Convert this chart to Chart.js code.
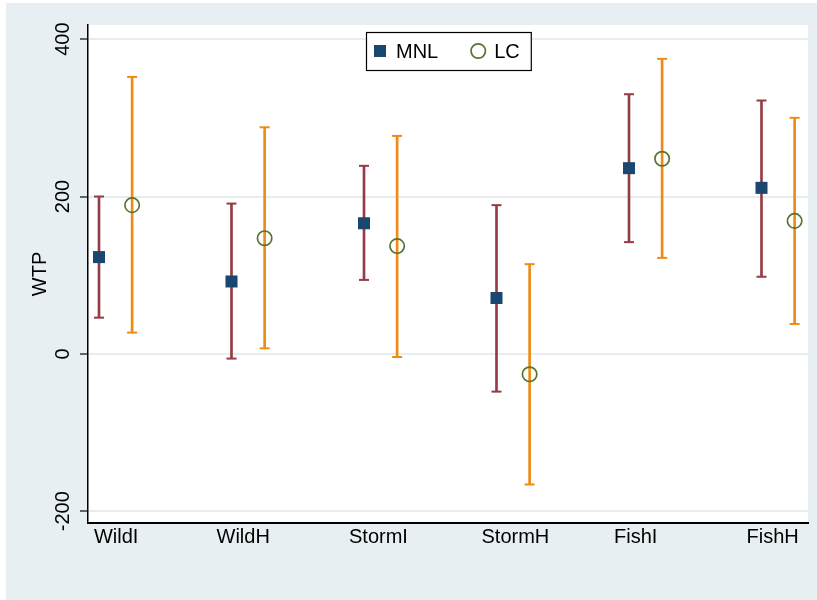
<!DOCTYPE html>
<html><head><meta charset="utf-8">
<script src="https://cdn.jsdelivr.net/npm/chart.js@4/dist/chart.umd.min.js"></script>
<style>
html,body{margin:0;padding:0;background:#fff;}
#wrap{position:absolute;left:6px;top:3px;width:811px;height:597px;background:#e8eff2;}
canvas{display:block;}
</style></head><body>
<div id="wrap"><canvas id="c" width="811" height="597"></canvas></div>
<script>
// ---- data ----
const categories = ['WildI', 'WildH', 'StormI', 'StormH', 'FishI', 'FishH'];
const seriesNames = ['MNL', 'LC'];
const mnlWTP   = [123, 92, 166, 71, 236, 211];
const mnlLower = [46, -6, 94, -48, 142, 98];
const mnlUpper = [200, 191, 239, 189, 330, 322];
const lcWTP    = [189, 147, 137, -26, 248, 169];
const lcLower  = [27, 7, -4, -166, 122, 38];
const lcUpper  = [352, 288, 277, 114, 375, 300];
const yTickValues = [-200, 0, 200, 400];
const yTitle = 'WTP';

// ---- styling ----
const FONT = "'Liberation Sans', Arial, Helvetica, sans-serif";
const navy = '#1a476f', maroon = '#963b45', orange = '#ee8b14', green = '#55752f';
const LC_SHIFT = 0.25;
const X_MIN = -0.083, X_MAX = 5.351;
const Y_MIN = -215, Y_MAX = 418;

const whiskers = (lo, hi, s) => categories.map((c, i) => ({x: i + s, y: [lo[i], hi[i]]}));
const caps = (lo, hi, s) => categories.flatMap((c, i) => [{x: i + s, y: lo[i]}, {x: i + s, y: hi[i]}]);
const pts = (v, s) => categories.map((c, i) => ({x: i + s, y: v[i]}));

const plotBg = {
  id: 'plotBg',
  beforeDraw(chart) {
    const {ctx, chartArea: a} = chart;
    ctx.save(); ctx.fillStyle = '#fff';
    ctx.fillRect(a.left, a.top, a.right - a.left, a.bottom - a.top);
    ctx.restore();
  }
};

const boxLegend = {
  id: 'boxLegend',
  afterDraw(chart) {
    const {ctx, chartArea: a} = chart;
    const items = chart.data.datasets.filter(d => d.legend);
    ctx.save();
    ctx.font = '20px ' + FONT;
    const padL = 8, padR = 11, sym = 12, gap = 10, itemGap = 34, h = 38;
    let total = padL + padR;
    items.forEach((d, i) => { total += sym + gap + ctx.measureText(d.label).width + (i ? itemGap : 0); });
    const left = Math.round((a.left + a.right) / 2 - total / 2);
    const top = a.top + 7;
    ctx.fillStyle = '#fff';
    ctx.fillRect(left, top, total, h);
    ctx.strokeStyle = '#000'; ctx.lineWidth = 1.2;
    ctx.strokeRect(left + 0.5, top + 0.5, total, h);
    let x = left + padL;
    const cy = top + h / 2;
    items.forEach((d, i) => {
      if (i) x += itemGap;
      if (d.pointStyle === 'rect') {
        ctx.fillStyle = d.backgroundColor;
        ctx.fillRect(x, cy - sym / 2, sym, sym);
      } else {
        ctx.strokeStyle = d.borderColor; ctx.lineWidth = d.borderWidth;
        ctx.beginPath(); ctx.arc(x + sym / 2, cy, d.pointRadius, 0, Math.PI * 2); ctx.stroke();
      }
      x += sym + gap;
      ctx.fillStyle = '#000'; ctx.textBaseline = 'middle'; ctx.textAlign = 'left';
      ctx.fillText(d.label, x, cy + 1);
      x += ctx.measureText(d.label).width;
    });
    ctx.restore();
  }
};

new Chart(document.getElementById('c'), {
  type: 'scatter',
  data: {
    datasets: [
      {label: seriesNames[0], legend: true, order: 0, data: pts(mnlWTP, 0),
       pointStyle: 'rect', pointRadius: 8.5, backgroundColor: navy, borderColor: navy, borderWidth: 0},
      {label: seriesNames[1], legend: true, order: 0, data: pts(lcWTP, LC_SHIFT),
       pointStyle: 'circle', pointRadius: 7.2, backgroundColor: 'rgba(0,0,0,0)', borderColor: green, borderWidth: 1.7},
      {label: 'MNL caps', order: 1, data: caps(mnlLower, mnlUpper, 0),
       pointStyle: 'line', pointRadius: 5, borderColor: maroon, borderWidth: 2},
      {label: 'LC caps', order: 1, data: caps(lcLower, lcUpper, LC_SHIFT),
       pointStyle: 'line', pointRadius: 5, borderColor: orange, borderWidth: 2},
      {type: 'bar', label: 'MNL CI', order: 2, data: whiskers(mnlLower, mnlUpper, 0),
       backgroundColor: maroon, borderWidth: 0, barThickness: 2, grouped: false},
      {type: 'bar', label: 'LC CI', order: 2, data: whiskers(lcLower, lcUpper, LC_SHIFT),
       backgroundColor: orange, borderWidth: 0, barThickness: 2, grouped: false}
    ]
  },
  options: {
    responsive: false,
    animation: false,
    events: [],
    devicePixelRatio: 1,
    layout: {padding: {left: 0, top: 22, right: 9, bottom: 37}},
    plugins: {legend: {display: false}, tooltip: {enabled: false}},
    scales: {
      x: {
        type: 'linear', min: X_MIN, max: X_MAX, offset: false,
        afterBuildTicks: s => { s.ticks = categories.map((c, i) => ({value: Math.max(i - 0.113, X_MIN + 0.045)})); },
        afterFit: s => { s.height = 40; },
        grid: {display: false, drawTicks: false, tickLength: 0},
        border: {display: true, color: '#000', width: 2},
        ticks: {color: '#000', font: {family: FONT, size: 20}, align: 'start', padding: 2,
                minRotation: 0, maxRotation: 0, autoSkip: false,
                callback: (v, i) => categories[i]}
      },
      y: {
        type: 'linear', min: Y_MIN, max: Y_MAX,
        afterBuildTicks: s => { s.ticks = yTickValues.map(v => ({value: v})); },
        afterFit: s => { s.width = 82; },
        grid: {color: '#e6edf0', lineWidth: 2, drawTicks: true, tickLength: 8, tickColor: '#333', tickWidth: 1.5},
        border: {display: true, color: '#000', width: 1.5},
        ticks: {color: '#000', font: {family: FONT, size: 20}, minRotation: 90, maxRotation: 90,
                crossAlign: 'center', padding: -3.5, autoSkip: false},
        title: {display: true, text: yTitle, color: '#000', font: {family: FONT, size: 20},
                padding: {top: 22, bottom: 0}}
      }
    }
  },
  plugins: [plotBg, boxLegend]
});
</script>
</body></html>
